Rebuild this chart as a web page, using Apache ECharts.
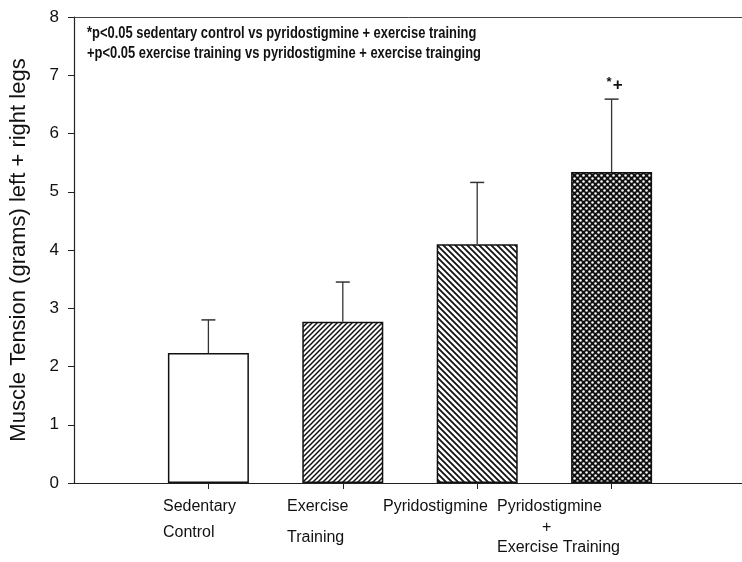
<!DOCTYPE html>
<html>
<head>
<meta charset="utf-8">
<script src="https://cdn.jsdelivr.net/npm/echarts@6/dist/echarts.min.js"></script>
<style>
  html, body { margin: 0; padding: 0; background: #fff; }
  #chart { width: 742px; height: 562px; }
</style>
</head>
<body>
<div id="chart"></div>
<script>
// Group names, mean muscle tension (g) and error (upper bar) per group
const categories = ['Sedentary Control', 'Exercise Training', 'Pyridostigmine', 'Pyridostigmine + Exercise Training'];
const meanTension = [2.23, 2.77, 4.10, 5.34];
const errorTension = [0.57, 0.68, 1.06, 1.25];
const significance = ['', '', '', '*+'];
const yTicks = [0, 1, 2, 3, 4, 5, 6, 7, 8];
const footnotes = [
  '*p<0.05 sedentary control vs pyridostigmine + exercise training',
  '+p<0.05 exercise training vs pyridostigmine + exercise trainging'
];

// Bars sit at x = 1..4 on a 0..5 value axis
const positions = categories.map((_, i) => i + 1);
// Left edges of the multi-line group labels (axis units)
const labelAnchors = [0.662, 1.585, 2.299, 3.147];

function makeTile(size, draw) {
  const c = document.createElement('canvas');
  c.width = size; c.height = size;
  const ctx = c.getContext('2d');
  draw(ctx, size);
  return c;
}

const fills = [
  '#ffffff',
  { image: makeTile(5, (ctx, s) => {
      ctx.fillStyle = '#fff'; ctx.fillRect(0, 0, s, s);
      ctx.strokeStyle = '#111'; ctx.lineWidth = 1.5;
      ctx.beginPath();
      ctx.moveTo(-1, s + 1); ctx.lineTo(s + 1, -1);
      ctx.moveTo(-1, 1); ctx.lineTo(1, -1);
      ctx.moveTo(s - 1, s + 1); ctx.lineTo(s + 1, s - 1);
      ctx.stroke();
    }), repeat: 'repeat' },
  { image: makeTile(6, (ctx, s) => {
      ctx.fillStyle = '#fff'; ctx.fillRect(0, 0, s, s);
      ctx.strokeStyle = '#111'; ctx.lineWidth = 1.8;
      ctx.beginPath();
      ctx.moveTo(-1, -1); ctx.lineTo(s + 1, s + 1);
      ctx.moveTo(s - 1, -1); ctx.lineTo(s + 1, 1);
      ctx.moveTo(-1, s - 1); ctx.lineTo(1, s + 1);
      ctx.stroke();
    }), repeat: 'repeat' },
  { image: makeTile(6, (ctx, s) => {
      ctx.fillStyle = '#111'; ctx.fillRect(0, 0, s, s);
      ctx.fillStyle = '#fff';
      [[1.5, 1.5], [4.5, 4.5]].forEach(([x, y]) => {
        ctx.beginPath(); ctx.arc(x, y, 1.25, 0, Math.PI * 2); ctx.fill();
      });
    }), repeat: 'repeat' }
];

const labelText = [
  '{a|Sedentary}\n{a|Control}',
  '{a|Exercise}\n{b|Training}',
  '{a|Pyridostigmine}',
  '{a|Pyridostigmine}\n{p|+}\n{c|Exercise Training}'
];

const font = "'Liberation Sans', Arial, sans-serif";
const noteFont = "bold 16px 'Liberation Sans', Arial, sans-serif";

// Narrow bold footnote: bold sans squeezed horizontally
const measure = document.createElement('canvas').getContext('2d');
measure.font = noteFont;
const noteWidth = Math.max(...footnotes.map(t => measure.measureText(t).width));
const noteScale = 394 / noteWidth;

const chart = echarts.init(document.getElementById('chart'), null, { renderer: 'canvas' });

chart.setOption({
  animation: false,
  backgroundColor: '#fff',
  textStyle: { fontFamily: font },
  graphic: [{
    type: 'text',
    x: 87, y: 24,
    scaleX: noteScale,
    style: {
      text: footnotes.join('\n'),
      font: noteFont,
      lineHeight: 20,
      fill: '#111'
    }
  }],
  grid: {
    left: 74, width: 672, top: 17, bottom: 79,
    outerBoundsMode: 'none',
    containLabel: false,
    show: false
  },
  xAxis: [{
    type: 'value', min: 0, max: 5, interval: 1,
    splitLine: { show: false },
    axisLine: { show: true, lineStyle: { color: '#222', width: 1.2 } },
    axisTick: { show: true, length: 6, customValues: positions, lineStyle: { color: '#222' } },
    axisLabel: {
      customValues: labelAnchors,
      formatter: (v) => labelText[labelAnchors.indexOf(v)] || '',
      align: 'left',
      verticalAlign: 'top',
      margin: 11,
      color: '#111',
      fontSize: 16,
      rich: {
        a: { fontSize: 16, lineHeight: 26, color: '#111', fontFamily: font },
        b: { fontSize: 16, lineHeight: 36, color: '#111', fontFamily: font },
        p: { fontSize: 16, lineHeight: 16, color: '#111', fontFamily: font, padding: [0, 0, 0, 45] },
        c: { fontSize: 16, lineHeight: 24, color: '#111', fontFamily: font }
      }
    }
  }, {
    // frame line along the top of the plot
    type: 'value', position: 'top', min: 0, max: 5,
    splitLine: { show: false },
    axisLine: { show: true, lineStyle: { color: '#444', width: 1 } },
    axisTick: { show: false },
    axisLabel: { show: false }
  }],
  yAxis: {
    type: 'value', min: yTicks[0], max: yTicks[yTicks.length - 1], interval: 1,
    name: 'Muscle Tension (grams) left + right legs',
    nameLocation: 'middle',
    nameGap: 44,
    nameTextStyle: { fontSize: 22, color: '#111', fontFamily: font },
    splitLine: { show: false },
    axisLine: { show: true, lineStyle: { color: '#222', width: 1.2 } },
    axisTick: { show: true, length: 6, lineStyle: { color: '#222' } },
    axisLabel: { fontSize: 17, color: '#111', margin: 15 }
  },
  series: [
    {
      type: 'bar',
      barWidth: 81,
      data: meanTension.map((v, i) => ({
        value: [positions[i], v],
        itemStyle: { color: fills[i], borderColor: '#111', borderWidth: 1.5 }
      }))
    },
    {
      type: 'custom',
      z: 5,
      data: meanTension.map((v, i) => [positions[i], v, v + errorTension[i], significance[i]]),
      renderItem: (params, api) => {
        const x = api.value(0);
        const base = api.coord([x, api.value(1)]);
        const top = api.coord([x, api.value(2)]);
        const half = 7;
        const children = [
          { type: 'line', shape: { x1: base[0], y1: base[1], x2: top[0], y2: top[1] },
            style: { stroke: '#333', lineWidth: 1.3 } },
          { type: 'line', shape: { x1: top[0] - half, y1: top[1], x2: top[0] + half, y2: top[1] },
            style: { stroke: '#333', lineWidth: 1.5 } }
        ];
        const sig = significance[params.dataIndex];
        if (sig) {
          children.push({
            type: 'text',
            style: {
              x: top[0] + 3, y: top[1] - 5,
              text: '{s|*}{p|+}',
              align: 'center', verticalAlign: 'bottom',
              rich: {
                s: { fontSize: 13, fontWeight: 'bold', fill: '#111', fontFamily: font, padding: [0, 1, 5, 0] },
                p: { fontSize: 17, fontWeight: 'bold', fill: '#111', fontFamily: font }
              }
            }
          });
        }
        return { type: 'group', children };
      }
    }
  ]
});
</script>
</body>
</html>
